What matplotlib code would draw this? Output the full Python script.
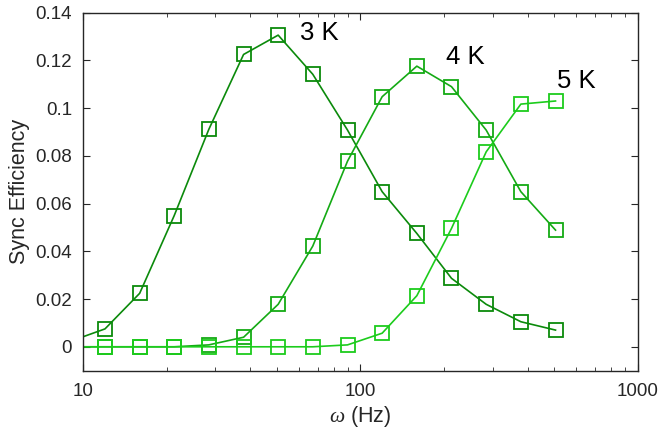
import matplotlib
matplotlib.use("Agg")
import matplotlib.pyplot as plt
from matplotlib.ticker import FixedLocator, LogLocator, NullFormatter

plt.rcParams["font.family"] = ["Liberation Sans", "DejaVu Sans"]
plt.rcParams["mathtext.fontset"] = "custom"
plt.rcParams["mathtext.it"] = "Liberation Serif:italic"

# driving frequency (Hz) and sync efficiency per temperature
omega = [12, 16, 21.3, 28.4, 37.9, 50.5, 67.3, 89.8, 119.7, 159.6, 212.8, 283.8, 378.4, 504.5]
eff_3k = [0.0075, 0.0224, 0.0549, 0.0911, 0.1225, 0.1306, 0.1142, 0.0908,
          0.0650, 0.0475, 0.0287, 0.0178, 0.0105, 0.0070]
eff_4k = [0.0, 0.0, 0.0, 0.0008, 0.0040, 0.0178, 0.0422, 0.0778,
          0.1048, 0.1176, 0.1090, 0.0908, 0.0650, 0.0489]
eff_5k = [0.0, 0.0, 0.0, 0.0, 0.0, 0.0, 0.0, 0.0008,
          0.0057, 0.0214, 0.0496, 0.0817, 0.1017, 0.1030]

# the fitted curves also start at 10 Hz
omega_start = 10
start_3k, start_4k, start_5k = 0.0042, 0.0, 0.0

labels = ["3 K", "4 K", "5 K"]
label_pos = [(71, 0.1315), (238, 0.1214), (598, 0.1114)]
colors = ["#0b8a0b", "#14aa14", "#1ccc1c"]

fig = plt.figure(figsize=(6.62, 4.32), dpi=100)
ax = fig.add_axes([0.1254, 0.142, 0.8383, 0.8286])

series = [(eff_3k, start_3k), (eff_4k, start_4k), (eff_5k, start_5k)]
for (eff, start), color, label, (lx, ly) in zip(series, colors, labels, label_pos):
    ax.plot([omega_start] + omega, [start] + eff, color=color, lw=1.2)
    ax.plot(omega, eff, ls="none", marker="s", ms=10.5, mfc="none",
            mec=color, mew=1.3)
    ax.text(lx, ly, label, ha="center", va="center", fontsize=18.5, color="black")

ax.set_xscale("log")
ax.set_xlim(10, 1000)
ax.set_ylim(-0.01, 0.14)
ax.yaxis.set_major_locator(FixedLocator([0, 0.02, 0.04, 0.06, 0.08, 0.1, 0.12, 0.14]))
ax.set_yticklabels(["0", "0.02", "0.04", "0.06", "0.08", "0.1", "0.12", "0.14"])
ax.xaxis.set_major_locator(FixedLocator([10, 100, 1000]))
ax.set_xticklabels(["10", "100", "1000"])
ax.xaxis.set_minor_locator(LogLocator(base=10, subs=range(2, 10)))
ax.xaxis.set_minor_formatter(NullFormatter())

axis_color = "#262626"
for spine in ax.spines.values():
    spine.set_color(axis_color)
    spine.set_linewidth(1.0)
ax.tick_params(which="both", direction="in", top=True, right=True,
               color=axis_color, labelcolor=axis_color, labelsize=13.5)
ax.tick_params(which="major", length=5)
ax.tick_params(axis="y", pad=8)
ax.tick_params(axis="x", pad=9)
ax.tick_params(which="minor", length=3)

ax.set_xlabel(r"$\omega$ (Hz)", fontsize=15.5, color=axis_color, labelpad=3)
ax.set_ylabel("Sync Efficiency", fontsize=15.5, color=axis_color, labelpad=4)

fig.savefig("out.png", dpi=100)
